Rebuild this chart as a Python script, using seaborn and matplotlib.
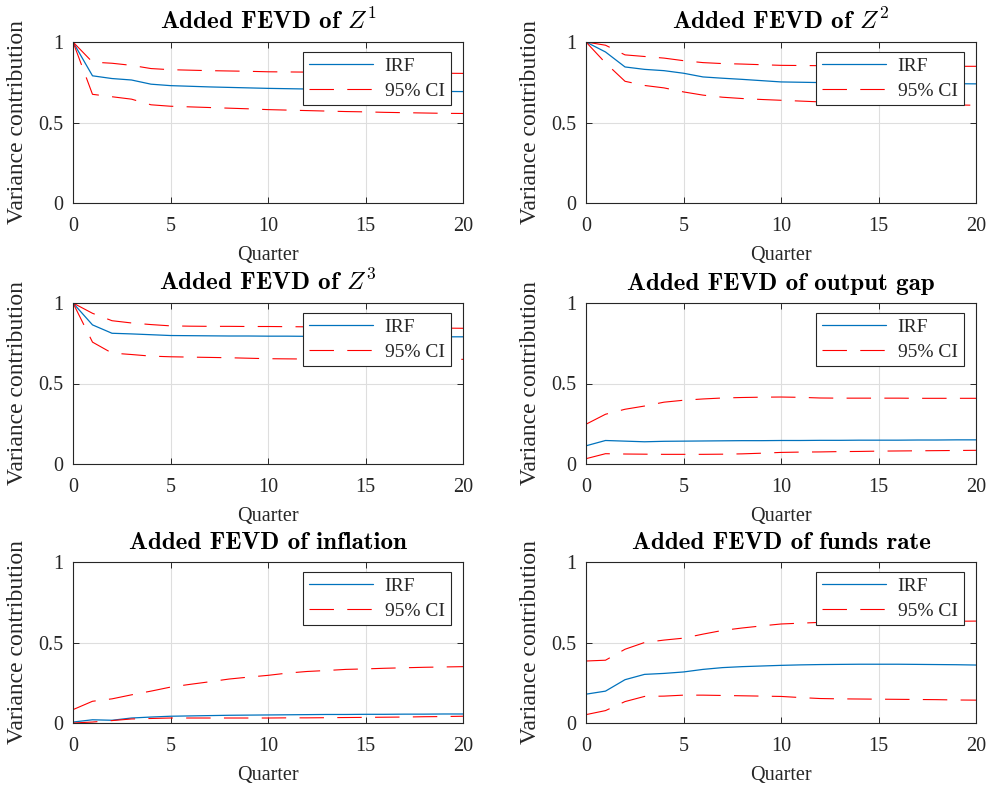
import matplotlib
matplotlib.use("Agg")
import matplotlib.pyplot as plt
import seaborn as sns
import numpy as np
import pandas as pd

quarters = list(range(21))

titles = ["Added FEVD of $Z^1$", "Added FEVD of $Z^2$", "Added FEVD of $Z^3$",
          "Added FEVD of output gap", "Added FEVD of inflation", "Added FEVD of funds rate"]

z1_irf = [1, 0.79, 0.773, 0.764, 0.738, 0.729, 0.725, 0.721, 0.718, 0.715, 0.712, 0.71, 0.708, 0.706, 0.703, 0.701, 0.699, 0.697, 0.695, 0.693, 0.692]
z1_up = [1, 0.875, 0.868, 0.855, 0.835, 0.828, 0.825, 0.822, 0.82, 0.818, 0.815, 0.814, 0.813, 0.812, 0.811, 0.81, 0.809, 0.808, 0.807, 0.806, 0.805]
z1_lo = [1, 0.675, 0.66, 0.645, 0.61, 0.601, 0.597, 0.593, 0.589, 0.585, 0.58, 0.577, 0.574, 0.571, 0.568, 0.566, 0.563, 0.561, 0.559, 0.557, 0.556]

z2_irf = [1, 0.938, 0.845, 0.83, 0.822, 0.806, 0.783, 0.775, 0.768, 0.76, 0.752, 0.75, 0.748, 0.747, 0.746, 0.745, 0.744, 0.743, 0.742, 0.741, 0.74]
z2_up = [1, 0.98, 0.92, 0.91, 0.9, 0.884, 0.872, 0.866, 0.863, 0.859, 0.855, 0.854, 0.853, 0.852, 0.852, 0.851, 0.851, 0.85, 0.85, 0.849, 0.849]
z2_lo = [1, 0.87, 0.756, 0.73, 0.715, 0.69, 0.67, 0.657, 0.649, 0.643, 0.638, 0.633, 0.628, 0.625, 0.622, 0.62, 0.617, 0.614, 0.611, 0.609, 0.607]

z3_irf = [1, 0.864, 0.812, 0.808, 0.803, 0.798, 0.797, 0.796, 0.795, 0.795, 0.794, 0.794, 0.793, 0.793, 0.792, 0.792, 0.791, 0.791, 0.79, 0.79, 0.79]
z3_up = [1, 0.936, 0.89, 0.876, 0.866, 0.858, 0.856, 0.855, 0.855, 0.854, 0.854, 0.853, 0.852, 0.851, 0.85, 0.849, 0.848, 0.847, 0.845, 0.844, 0.843]
z3_lo = [1, 0.757, 0.689, 0.68, 0.67, 0.666, 0.664, 0.662, 0.66, 0.657, 0.654, 0.653, 0.652, 0.652, 0.651, 0.651, 0.651, 0.65, 0.65, 0.65, 0.65]

gap_irf = [0.113, 0.146, 0.142, 0.138, 0.141, 0.142, 0.143, 0.144, 0.145, 0.145, 0.146, 0.146, 0.147, 0.147, 0.148, 0.148, 0.148, 0.149, 0.149, 0.15, 0.15]
gap_up = [0.247, 0.309, 0.34, 0.36, 0.384, 0.396, 0.404, 0.41, 0.413, 0.415, 0.416, 0.414, 0.41, 0.409, 0.409, 0.409, 0.409, 0.408, 0.408, 0.408, 0.408]
gap_lo = [0.033, 0.064, 0.062, 0.061, 0.06, 0.06, 0.06, 0.061, 0.063, 0.067, 0.072, 0.074, 0.075, 0.077, 0.078, 0.08, 0.081, 0.082, 0.083, 0.084, 0.085]

inf_irf = [0.006, 0.02, 0.017, 0.031, 0.037, 0.042, 0.044, 0.046, 0.048, 0.049, 0.05, 0.051, 0.052, 0.053, 0.053, 0.054, 0.054, 0.055, 0.055, 0.056, 0.056]
inf_up = [0.083, 0.135, 0.15, 0.175, 0.198, 0.223, 0.24, 0.256, 0.273, 0.285, 0.296, 0.31, 0.32, 0.326, 0.333, 0.336, 0.34, 0.343, 0.346, 0.348, 0.35]
inf_lo = [0.0, 0.006, 0.015, 0.025, 0.028, 0.031, 0.031, 0.031, 0.031, 0.031, 0.031, 0.032, 0.032, 0.033, 0.034, 0.035, 0.036, 0.037, 0.039, 0.04, 0.042]

ff_irf = [0.179, 0.198, 0.269, 0.302, 0.308, 0.317, 0.333, 0.344, 0.35, 0.354, 0.358, 0.361, 0.363, 0.364, 0.365, 0.365, 0.365, 0.364, 0.363, 0.362, 0.36]
ff_up = [0.385, 0.39, 0.458, 0.5, 0.515, 0.527, 0.552, 0.575, 0.59, 0.603, 0.615, 0.62, 0.625, 0.627, 0.628, 0.629, 0.63, 0.631, 0.632, 0.632, 0.633]
ff_lo = [0.052, 0.077, 0.133, 0.165, 0.167, 0.173, 0.173, 0.171, 0.169, 0.167, 0.165, 0.158, 0.152, 0.15, 0.149, 0.148, 0.147, 0.146, 0.145, 0.143, 0.142]

series = [(z1_irf, z1_up, z1_lo), (z2_irf, z2_up, z2_lo), (z3_irf, z3_up, z3_lo),
          (gap_irf, gap_up, gap_lo), (inf_irf, inf_up, inf_lo), (ff_irf, ff_up, ff_lo)]

xticks = [0, 5, 10, 15, 20]
yticks = [0, 0.5, 1]
ytick_labels = ["0", "0.5", "1"]

sns.set_theme(style="ticks")
plt.rcParams['font.family'] = ['Liberation Serif', 'DejaVu Serif']
plt.rcParams['mathtext.fontset'] = 'cm'

BLUE = "#0072BD"
RED = "#FF0000"
AXC = "#262626"

fig = plt.figure(figsize=(9.92, 7.91), dpi=100)
lefts = [73 / 992, 586 / 992]
bottoms = [1 - 203 / 791, 1 - 464 / 791, 1 - 723 / 791]
w = 390 / 992
h = 161 / 791

for i, (title, (irf, up, lo)) in enumerate(zip(titles, series)):
    r, c = divmod(i, 2)
    ax = fig.add_axes([lefts[c], bottoms[r], w, h])
    df = pd.DataFrame({"q": quarters, "irf": irf, "up": up, "lo": lo})
    sns.lineplot(data=df, x="q", y="irf", ax=ax, color=BLUE, lw=0.9, label="IRF")
    sns.lineplot(data=df, x="q", y="up", ax=ax, color=RED, lw=0.8, label="95% CI")
    sns.lineplot(data=df, x="q", y="lo", ax=ax, color=RED, lw=0.8, label="_nolegend_")
    for ln in ax.get_lines()[1:3]:
        ln.set_dashes((22, 12))
    ax.set_xlim(0, 20)
    ax.set_ylim(0, 1)
    ax.set_xticks(xticks)
    ax.set_yticks(yticks)
    ax.set_yticklabels(ytick_labels)
    ax.grid(True, color="#dedede", lw=0.8)
    ax.set_axisbelow(True)
    for s in ax.spines.values():
        s.set_color(AXC)
        s.set_linewidth(0.8)
        s.set_visible(True)
    ax.tick_params(direction="in", length=4, width=0.7, color=AXC, top=True, right=True,
                   labelsize=14.5, labelcolor="#262626")
    ax.tick_params(axis="x", pad=10)
    ax.tick_params(axis="y", pad=7)
    ax.set_xlabel("Quarter", fontsize=14.5, color="#262626", labelpad=7)
    ax.set_ylabel("Variance contribution", fontsize=17, color="#262626", labelpad=7)
    ax.set_title(title, fontsize=18, family="cmb10", pad=9.5, color="black")
    leg = ax.legend(loc="upper right", bbox_to_anchor=(0.968, 0.94), borderaxespad=0,
                    fontsize=14, handlelength=3.3, labelspacing=0.35, fancybox=False,
                    framealpha=1, edgecolor="#262626", borderpad=0.3, handletextpad=0.6)
    leg.get_frame().set_linewidth(0.8)
    for t in leg.get_texts():
        t.set_color("#262626")

fig.savefig("out.png", dpi=100)
